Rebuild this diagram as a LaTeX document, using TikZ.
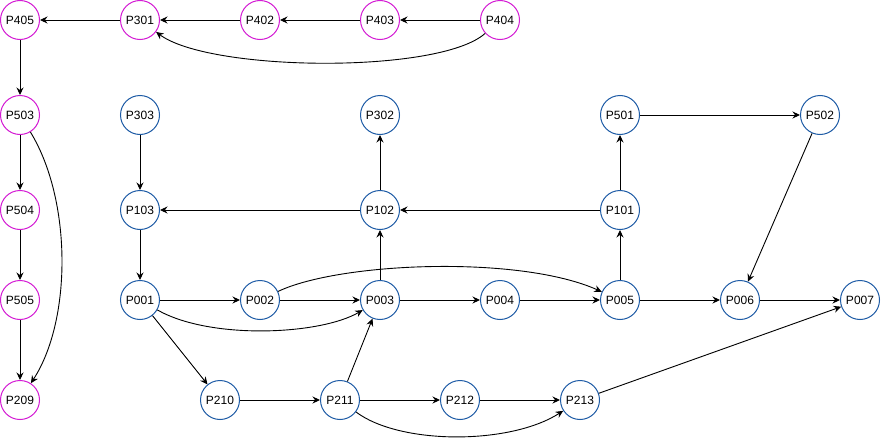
\documentclass[tikz,border=0pt]{standalone}
\usepackage{fontspec}
\setmainfont{Liberation Sans}
\usetikzlibrary{arrows.meta}
\definecolor{mag}{HTML}{D41CD4}
\definecolor{blu}{HTML}{1F5CA6}
\tikzset{
  pnode/.style={circle, draw, line width=1pt, minimum size=39pt, inner sep=0pt, font=\fontsize{12pt}{14pt}\selectfont, fill=white},
  mnode/.style={pnode, draw=mag},
  bnode/.style={pnode, draw=blu},
  arr/.style={-{Stealth[length=7.5pt,width=7pt,inset=2.5pt]}, line width=0.9pt, black}
}
\begin{document}
\begin{tikzpicture}[x=1pt,y=-1pt]
\useasboundingbox (0,0) rectangle (881,439);
% magenta
\node[mnode] (P405) at (20,20) {P405};
\node[mnode] (P301) at (140,20) {P301};
\node[mnode] (P402) at (260,20) {P402};
\node[mnode] (P403) at (380,20) {P403};
\node[mnode] (P404) at (500,20) {P404};
\node[mnode] (P503) at (20,115) {P503};
\node[mnode] (P504) at (20,210) {P504};
\node[mnode] (P505) at (20,300) {P505};
\node[mnode] (P209) at (20,400) {P209};
% blue
\node[bnode] (P303) at (140,115) {P303};
\node[bnode] (P302) at (380,115) {P302};
\node[bnode] (P501) at (620,115) {P501};
\node[bnode] (P502) at (820,115) {P502};
\node[bnode] (P103) at (140,210) {P103};
\node[bnode] (P102) at (380,210) {P102};
\node[bnode] (P101) at (620,210) {P101};
\node[bnode] (P001) at (140,300) {P001};
\node[bnode] (P002) at (260,300) {P002};
\node[bnode] (P003) at (380,300) {P003};
\node[bnode] (P004) at (500,300) {P004};
\node[bnode] (P005) at (620,300) {P005};
\node[bnode] (P006) at (740,300) {P006};
\node[bnode] (P007) at (860,300) {P007};
\node[bnode] (P210) at (220,400) {P210};
\node[bnode] (P211) at (340,400) {P211};
\node[bnode] (P212) at (460,400) {P212};
\node[bnode] (P213) at (580,400) {P213};
% edges magenta
\draw[arr] (P404) -- (P403);
\draw[arr] (P403) -- (P402);
\draw[arr] (P402) -- (P301);
\draw[arr] (P301) -- (P405);
\draw[arr] (P404) .. controls (440,74) and (210,72) .. (P301);
\draw[arr] (P405) -- (P503);
\draw[arr] (P503) -- (P504);
\draw[arr] (P504) -- (P505);
\draw[arr] (P505) -- (P209);
\draw[arr] (P503) .. controls (72,200) and (72,320) .. (P209);
% edges blue
\draw[arr] (P303) -- (P103);
\draw[arr] (P102) -- (P103);
\draw[arr] (P101) -- (P102);
\draw[arr] (P102) -- (P302);
\draw[arr] (P101) -- (P501);
\draw[arr] (P501) -- (P502);
\draw[arr] (P502) -- (P006);
\draw[arr] (P103) -- (P001);
\draw[arr] (P001) -- (P002);
\draw[arr] (P002) -- (P003);
\draw[arr] (P003) -- (P004);
\draw[arr] (P004) -- (P005);
\draw[arr] (P005) -- (P006);
\draw[arr] (P006) -- (P007);
\draw[arr] (P003) -- (P102);
\draw[arr] (P005) -- (P101);
\draw[arr] (P001) -- (P210);
\draw[arr] (P210) -- (P211);
\draw[arr] (P211) -- (P212);
\draw[arr] (P212) -- (P213);
\draw[arr] (P211) -- (P003);
\draw[arr] (P213) -- (P007);
\draw[arr] (P001) .. controls (210,340) and (320,335) .. (P003);
\draw[arr] (P002) .. controls (340,262) and (520,255) .. (P005);
\draw[arr] (P211) .. controls (400,445) and (510,445) .. (P213);
\end{tikzpicture}
\end{document}
